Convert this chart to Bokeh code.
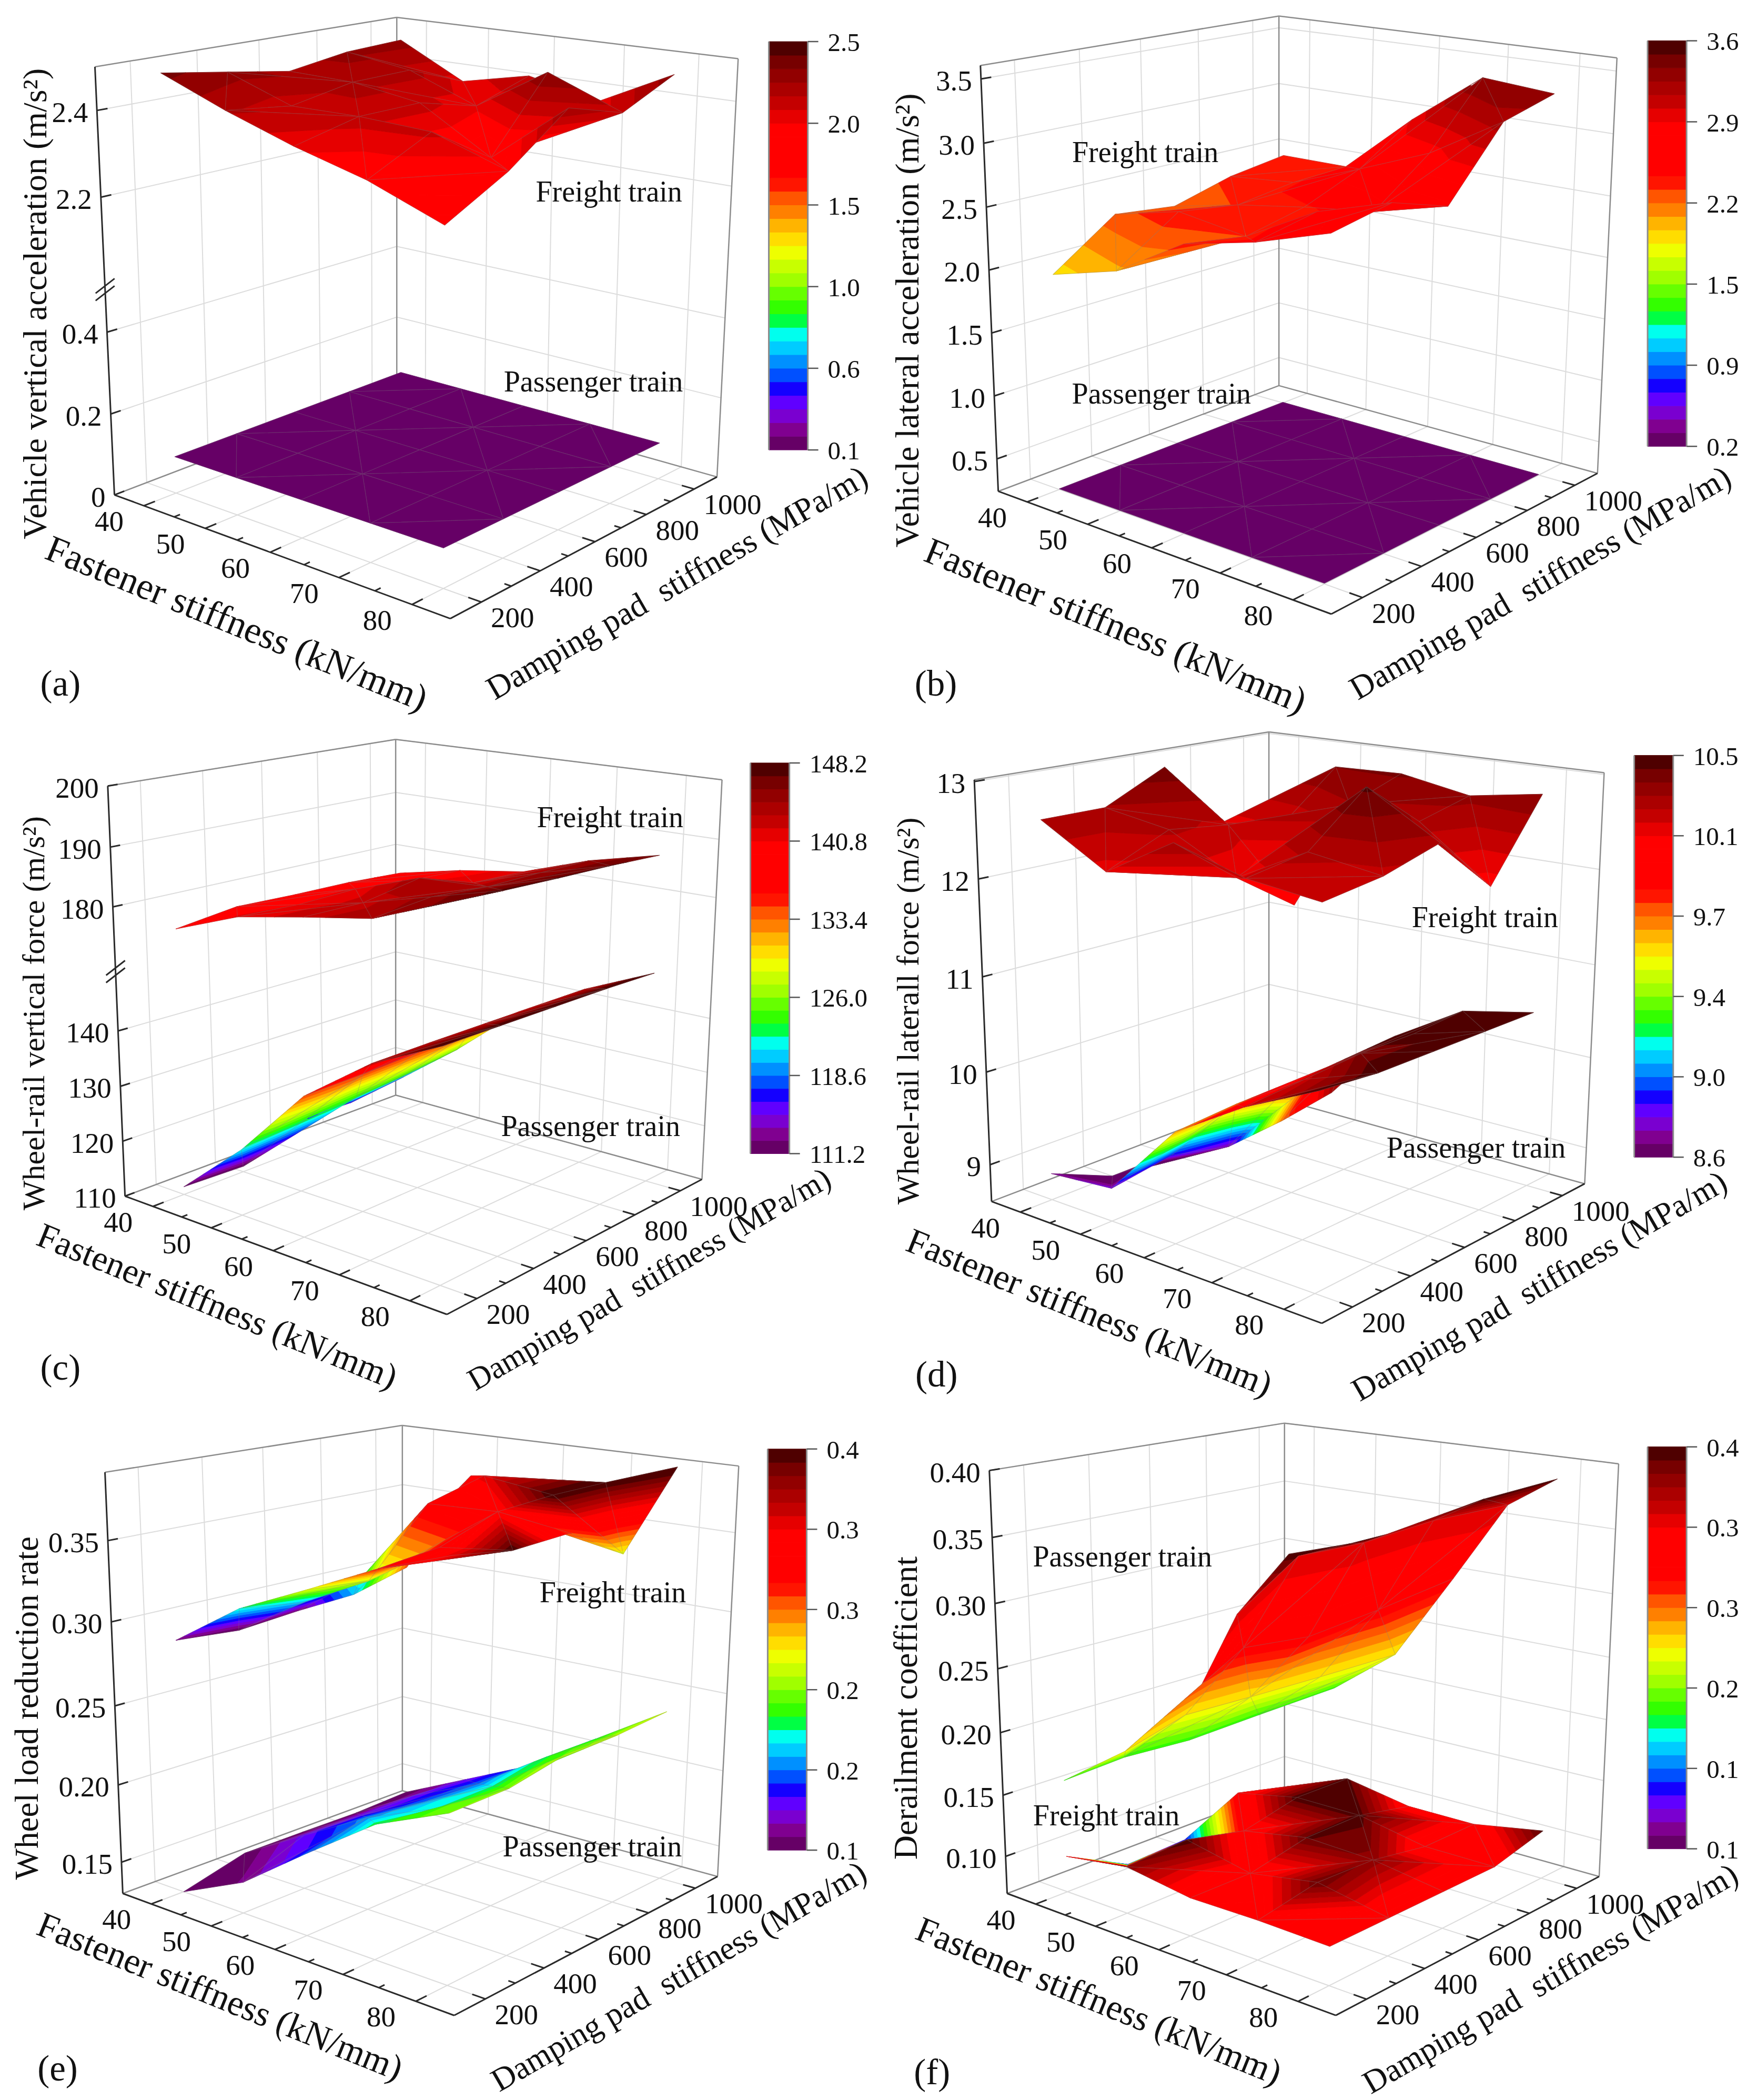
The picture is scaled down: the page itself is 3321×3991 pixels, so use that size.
import numpy as np
from bokeh.plotting import figure
from bokeh.layouts import column, row
from bokeh.embed import file_html
from bokeh.resources import INLINE
from bokeh.core.properties import value

# ---------------- axes ----------------
FASTENER_TICKS = [40, 50, 60, 70, 80]
PAD_TICKS = [200, 400, 600, 800, 1000]

# ---------------- values: rows are pad stiffness 200..1000, columns fastener 40..80 ----------------
A_FREIGHT = [[2.484,2.424,2.372,2.329,2.267],[2.459,2.404,2.406,2.399,2.343],[2.434,2.431,2.407,2.308,2.447],[2.456,2.433,2.37,2.474,2.406],[2.462,2.378,2.415,2.377,2.465]]
A_PASSENGER = [[0.09]*5 for _ in range(5)]
B_FREIGHT = [[1.954,2.103,2.427,2.554,2.729],[2.306,2.437,2.352,2.65,2.821],[2.248,2.366,2.455,2.526,2.673],[2.382,2.433,2.644,2.867,3.204],[2.453,2.452,2.947,3.375,3.325]]
B_PASSENGER = [[0.25]*5 for _ in range(5)]
C_FREIGHT = [[176.2,180.3,182.4,184.3,188.7],[177.5,179.9,182.3,185.3,188.3],[177.2,180.2,184.1,184.6,188],[177.1,179.4,181,184.7,187.8],[176.6,179,180.7,184.6,187.4]]
C_PASSENGER = [[111.4,121.6,134.3,142.9,148.8],[111,122.5,134.5,143,148.8],[115.7,123.5,135,143,148.8],[115.5,124.5,135.5,143,148.8],[116.7,125.7,136,143,148.6]]
D_FREIGHT = [[12.6,12.19,12.6,12.38,12.29],[12.6,12.48,12.11,12.49,12.38],[12.92,12.4,11.68,13.01,12.56],[12.18,12.29,12.6,12.53,11.98],[12.31,12.8,12.82,12.68,12.8]]
D_PASSENGER = [[8.89,8.95,9.75,10.2,10.55],[8.62,9.05,9.8,10.25,10.5],[8.62,8.9,9.8,10.3,10.5],[8.65,8.95,9.85,10.3,10.5],[8.7,9.05,9.9,10.35,10.5]]
D_PASSENGER_COLOUR = [[8.89,8.95,9.75,10.2,10.55],[8.62,9.05,9.8,10.25,10.5],[8.62,8.9,10.0,10.4,10.5],[8.65,9.8,10.4,10.5,10.5],[8.7,10.3,10.5,10.5,10.5]]
E_FREIGHT = [[.2884,.3155,.3344,.3537,.368],[.285,.31,.331,.358,.363],[.288,.3163,.3705,.3718,.3654],[.2897,.3371,.3812,.375,.3451],[.2993,.3686,.371,.3761,.3918]]
E_FREIGHT_COLOUR = [[.2884,.3155,.3344,.3537,.368],[.285,.31,.331,.358,.39],[.288,.3163,.36,.365,.352],[.31,.3371,.37,.39,.335],[.35,.36,.365,.39,.392]]
E_PASSENGER = [[.13,.1491,.1802,.21,.2282],[.1401,.1643,.188,.2055,.2289],[.1399,.1634,.1842,.2058,.236],[.1394,.1634,.1826,.2114,.236],[.141,.1612,.1818,.211,.2391]]
F_PASSENGER = [[.1606,.1931,.2196,.2513,.2823],[.1683,.2109,.2374,.2645,.2922],[.1776,.2507,.2704,.3015,.3344],[.2552,.313,.3326,.3584,.3782],[.2955,.3131,.3353,.3658,.3889]]
F_PASSENGER_COLOUR = [[.205]*5,[.25]*5,[.31]*5,[.35]*5,[.395]*5]
F_FREIGHT = [[.09867,.1068,.09919,.09972,.0985],[.07315,.1096,.09873,.1085,.0985],[.07537,.09861,.1088,.1068,.0985],[.09871,.1096,.1093,.09877,.0985],[.0796,.1091,.0993,.09916,.1092]]

COLOURBAR_COLOURS = ["#660066","#800090","#7a00d0","#6000ff","#1400ff","#0050ff","#0090ff","#00ccff","#00ffee","#00ff44",
                     "#33ff00","#66ff00","#a0ff00","#c8ff00","#eeff00","#ffdd00","#ffb400","#ff8000","#ff5500","#ff1500",
                     "#ff0000","#ff0000","#ff0000","#ff0000","#e60000","#c40000","#ab0000","#920000","#770000","#4f0000"]

FONT = value("Liberation Serif")
PANELS = [
 dict(tag="(a)", ox=0, oy=0, H=1340, L=(205,1100), F=(808,1375), R=(1287,1060), B=(712,860), TL=(170,148), TB=(712,38), TR=(1325,130),
      cal_z=[0,0.2,0.4,0.5,2.0,2.2,2.4,2.5], cal_y=[1100,920,738,647,640,438,245,148],
      ticks=[0,.2,.4,2.2,2.4], labels=["0","0.2","0.4","2.2","2.4"], brk=(0.5,2.0),
      ytitle="Vehicle vertical acceleration (m/s²)", yc=(62,675), ysize=64,
      ftc=(425,1385), fts=71, dtc=(1215,1295), dts=63,
      bar=(1380,1450,92,1000), barlab=["0.1","0.6","1.0","1.5","2.0","2.5"], letter=(108,1520),
      surfaces=[(A_PASSENGER,0.1,2.5,None),(A_FREIGHT,1.7,2.53,None)],
      notes=[("Freight train",1093,425),("Passenger train",1065,848)]),
 dict(tag="(b)", ox=1660, oy=0, H=1340, L=(224,1092), F=(822,1365), R=(1300,1052), B=(728,857), TL=(192,145), TB=(728,35), TR=(1335,128),
      cal_z=[.245,.5,1,1.5,2,2.5,3,3.5,3.606], cal_y=[1092,1020,880,740,600,460,318,175,145],
      ticks=[.5,1,1.5,2,2.5,3,3.5], labels=["0.5","1.0","1.5","2.0","2.5","3.0","3.5"], brk=None,
      ytitle="Vehicle lateral acceleration (m/s²)", yc=(60,712), ysize=64,
      ftc=(435,1390), fts=71, dtc=(1197,1295), dts=63,
      bar=(1390,1460,90,992), barlab=["0.2","0.9","1.5","2.2","2.9","3.6"], letter=(112,1520),
      surfaces=[(B_PASSENGER,0.2,3.6,None),(B_FREIGHT,0.2,3.6,None)],
      notes=[("Freight train",488,338),("Passenger train",517,875)]),
 dict(tag="(c)", ox=0, oy=1340, H=1320, L=(224,1108), F=(802,1375), R=(1260,1070), B=(710,880), TL=(193,182), TB=(710,77), TR=(1296,168),
      cal_z=[110,120,130,140,150,170,180,190,200], cal_y=[1108,984,860,735,610,592,455,320,182],
      ticks=[110,120,130,140,180,190,200], labels=["110","120","130","140","180","190","200"], brk=(150,170),
      ytitle="Wheel-rail vertical force (m/s²)", yc=(60,695), ysize=60,
      ftc=(390,1355), fts=67, dtc=(1165,1295), dts=60,
      bar=(1347,1417,130,1012), barlab=["111.2","118.6","126.0","133.4","140.8","148.2"], letter=(108,1495),
      surfaces=[(C_PASSENGER,111.2,148.2,None),(C_FREIGHT,142.9,189.2,None)],
      notes=[("Freight train",1095,252),("Passenger train",1060,950)]),
 dict(tag="(d)", ox=1660, oy=1340, H=1320, L=(212,1120), F=(805,1395), R=(1277,1080), B=(710,882), TL=(181,168), TB=(710,60), TR=(1312,152),
      cal_z=[8.62,9,10,11,12,13,13.02], cal_y=[1120,1037,828,613,392,172,168],
      ticks=[9,10,11,12,13], labels=["9","10","11","12","13"], brk=None,
      ytitle="Wheel-rail laterall force (m/s²)", yc=(62,690), ysize=60,
      ftc=(388,1370), fts=68, dtc=(1195,1310), dts=62,
      bar=(1366,1436,113,1020), barlab=["8.6","9.0","9.4","9.7","10.1","10.5"], letter=(113,1510),
      surfaces=[(D_PASSENGER,8.8,10.5,D_PASSENGER_COLOUR),(D_FREIGHT,7.85,13.15,None)],
      notes=[("Freight train",1098,478),("Passenger train",1082,998)]),
 dict(tag="(e)", ox=0, oy=2660, H=1331, L=(220,1105), F=(815,1378), R=(1288,1067), B=(722,875), TL=(188,162), TB=(722,57), TR=(1326,148),
      cal_z=[.13,.15,.2,.25,.3,.35,.392], cal_y=[1105,1035,862,685,497,315,162],
      ticks=[.15,.2,.25,.3,.35], labels=["0.15","0.20","0.25","0.30","0.35"], brk=None,
      ytitle="Wheel load reduction rate", yc=(48,690), ysize=63,
      ftc=(395,1335), fts=68, dtc=(1218,1290), dts=62,
      bar=(1378,1448,110,1008), barlab=["0.1","0.2","0.2","0.3","0.3","0.4"], letter=(103,1497),
      surfaces=[(E_PASSENGER,0.14,0.36,None),(E_FREIGHT,0.285,0.39,E_FREIGHT_COLOUR)],
      notes=[("Freight train",1100,430),("Passenger train",1063,1000)]),
 dict(tag="(f)", ox=1660, oy=2660, H=1331, L=(240,1105), F=(830,1378), R=(1303,1067), B=(738,870), TL=(208,158), TB=(738,52), TR=(1338,143),
      cal_z=[.07,.1,.15,.2,.25,.3,.35,.4], cal_y=[1105,1022,885,745,602,456,308,158],
      ticks=[.1,.15,.2,.25,.3,.35,.4], labels=["0.10","0.15","0.20","0.25","0.30","0.35","0.40"], brk=None,
      ytitle="Derailment coefficient", yc=(58,690), ysize=64,
      ftc=(405,1345), fts=68, dtc=(1215,1295), dts=62,
      bar=(1390,1460,105,1005), barlab=["0.1","0.1","0.2","0.3","0.3","0.4"], letter=(105,1505),
      surfaces=[(F_FREIGHT,0.07,0.11,None),(F_PASSENGER,0.1,0.4,F_PASSENGER_COLOUR)],
      notes=[("Passenger train",447,350),("Freight train",418,930)]),
]


def isect(a, b, c, d):
    a, b, c, d = [np.array(x, float) for x in (a, b, c, d)]
    t = np.linalg.solve(np.array([b - a, c - d]).T, c - a)
    return a + t[0] * (b - a)


def homography(pts):
    M, r = [], []
    for (u, v), (x, y) in zip([(0, 0), (1, 0), (1, 1), (0, 1)], pts):
        M.append([u, v, 1, 0, 0, 0, -u * x, -v * x]); r.append(x)
        M.append([0, 0, 0, u, v, 1, -u * y, -v * y]); r.append(y)
    return np.append(np.linalg.solve(np.array(M, float), np.array(r, float)), 1).reshape(3, 3)


def band_polys(tri, vmin, vmax):
    """tri: three (x, y, c). Split it into polygons of constant colour band."""
    n = len(COLOURBAR_COLOURS)
    step = (vmax - vmin) / n
    cs = [t[2] for t in tri]
    out = []
    for i in range(n):
        lo = -np.inf if i == 0 else vmin + i * step
        hi = np.inf if i == n - 1 else vmin + (i + 1) * step
        if max(cs) < lo or min(cs) > hi:
            continue
        poly = clip(clip(tri, lo, True), hi, False)
        if len(poly) >= 3:
            out.append((poly, COLOURBAR_COLOURS[i]))
    return out


def clip(poly, level, keep_above):
    if not np.isfinite(level) or not poly:
        return poly
    res = []
    for k in range(len(poly)):
        a, b = poly[k], poly[(k + 1) % len(poly)]
        ina = a[2] >= level if keep_above else a[2] <= level
        inb = b[2] >= level if keep_above else b[2] <= level
        if ina:
            res.append(a)
        if ina != inb:
            t = (level - a[2]) / (b[2] - a[2])
            res.append((a[0] + t * (b[0] - a[0]), a[1] + t * (b[1] - a[1]), level))
    return res


def panel(P, xlim, ylim):
    sx = 1660 / 1568
    sy = P["H"] / 1568
    def Z(pt):
        return (P["ox"] + pt[0] * sx, P["oy"] + pt[1] * sy)
    L, F, R, B, TL, TB, TR = [Z(P[k]) for k in ("L", "F", "R", "B", "TL", "TB", "TR")]
    vp1 = isect(L, F, B, R)
    vp2 = isect(L, B, F, R)
    TF = isect(TL, vp1, TR, vp2)
    Hf = homography([L, F, R, B])
    Ht = homography([TL, TF, TR, TB])
    Ly, Ty = P["L"][1], P["TL"][1]
    ws = [(Ly - y) / (Ly - Ty) for y in P["cal_y"]]

    def wz(z):
        return float(np.interp(z, P["cal_z"], ws))

    def pt3(f, pad, w):
        u, v = (f - 35) / 50, (pad - 100) / 1000
        a = Hf @ np.array([u, v, 1.0]); a = a[:2] / a[2]
        b = Ht @ np.array([u, v, 1.0]); b = b[:2] / b[2]
        return a * (1 - w) + b * w

    p = figure(width=xlim[1] - xlim[0], height=ylim[1] - ylim[0], x_range=xlim, y_range=(ylim[1], ylim[0]),
               output_backend="svg", toolbar_location=None, min_border=0)
    p.axis.visible = False
    p.grid.visible = False
    p.outline_line_color = None

    def seg(a, b):
        return [a[0], b[0]], [a[1], b[1]]

    grid, box, axes = [], [], []
    fa, fb, pa, pb = 35, 85, 100, 1100
    for f in FASTENER_TICKS:
        grid.append(seg(pt3(f, pa, 0), pt3(f, pb, 0)))
        grid.append(seg(pt3(f, pb, 0), pt3(f, pb, 1)))
    for d in PAD_TICKS:
        grid.append(seg(pt3(fa, d, 0), pt3(fb, d, 0)))
        grid.append(seg(pt3(fa, d, 0), pt3(fa, d, 1)))
    for z in P["ticks"]:
        w = wz(z)
        grid.append(seg(pt3(fa, pa, w), pt3(fa, pb, w)))
        grid.append(seg(pt3(fa, pb, w), pt3(fb, pb, w)))
    p.multi_line([g[0] for g in grid], [g[1] for g in grid], line_color="#dcdcdc", line_width=2)

    for a, b in [((fa, pa, 1), (fa, pb, 1)), ((fa, pb, 1), (fb, pb, 1)), ((fa, pb, 0), (fa, pb, 1)),
                 ((fb, pb, 0), (fb, pb, 1)), ((fa, pa, 0), (fa, pb, 0)), ((fa, pb, 0), (fb, pb, 0))]:
        box.append(seg(pt3(*a), pt3(*b)))
    p.multi_line([g[0] for g in box], [g[1] for g in box], line_color="#8c8c8c", line_width=2.5)

    for a, b in [((fa, pa, 0), (fa, pa, 1)), ((fa, pa, 0), (fb, pa, 0)), ((fb, pa, 0), (fb, pb, 0))]:
        axes.append(seg(pt3(*a), pt3(*b)))
    for f in range(40, 85, 5):
        ln = 34 if f % 10 == 0 else 18
        axes.append(seg(pt3(f, pa, 0), pt3(f, pa + ln, 0)))
    for d in range(200, 1100, 100):
        ln = 1.7 if d % 200 == 0 else 0.9
        axes.append(seg(pt3(fb, d, 0), pt3(fb - ln, d, 0)))
    for z in P["ticks"]:
        w = wz(z)
        axes.append(seg(pt3(fa, pa, w), pt3(fa, pa + 30, w)))
    if P["brk"]:
        q = pt3(fa, pa, 0.5 * (wz(P["brk"][0]) + wz(P["brk"][1])))
        for dy in (-7, 7):
            axes.append(([q[0] - 18, q[0] + 18], [q[1] + dy + 14, q[1] + dy - 14]))
    p.multi_line([g[0] for g in axes], [g[1] for g in axes], line_color="#2a2a2a", line_width=3)

    # surfaces: each triangle is split along the colour levels, painted from far to near
    for vals, vmin, vmax, colgrid in P["surfaces"]:
        vals = np.array(vals, float)
        cols = vals if colgrid is None else np.array(colgrid, float)
        xs, ys, fc, lc, fa_, la, lw = [], [], [], [], [], [], []
        def node(i, j):
            q = pt3(FASTENER_TICKS[j], PAD_TICKS[i], wz(vals[i, j]))
            return (q[0], q[1], cols[i, j])
        for i in range(3, -1, -1):
            for j in range(4):
                a, b, c, d = node(i, j), node(i, j + 1), node(i + 1, j + 1), node(i + 1, j)
                tris = [(d, c, a), (c, b, a)] if (i + j) % 2 == 1 else [(d, c, b), (d, b, a)]
                for tri in tris:
                    for poly, colr in band_polys(list(tri), vmin, vmax):
                        xs.append([q[0] for q in poly]); ys.append([q[1] for q in poly])
                        fc.append(colr); lc.append(colr); fa_.append(1.0); la.append(1.0); lw.append(1.0)
                    xs.append([q[0] for q in tri]); ys.append([q[1] for q in tri])
                    fc.append("#888888"); lc.append("#808080"); fa_.append(0.0); la.append(0.32); lw.append(1.2)
        p.patches(xs, ys, fill_color=fc, line_color=lc, fill_alpha=fa_, line_alpha=la, line_width=lw)

    def txt(x, y, s, size, align="center", angle=0.0):
        p.text([x], [y], text=[s], text_font=FONT, text_font_size=f"{size}px", text_align=align,
               text_baseline="middle", angle=angle, text_color="#111111")

    for f in FASTENER_TICKS:
        q = pt3(f, pa, 0)
        txt(q[0] - 66, q[1] + 30, str(f), 55)
    for d in PAD_TICKS:
        q = pt3(fb, d, 0)
        txt(q[0] + 18, q[1] + 30, str(d), 55, "left")
    for z, s in zip(P["ticks"], P["labels"]):
        q = pt3(fa, pa, wz(z))
        txt(q[0] - 17, q[1] + 4, s, 55, "right")

    c = Z(P["yc"]); txt(c[0], c[1], P["ytitle"], P["ysize"], angle=np.pi / 2)
    c = Z(P["ftc"]); txt(c[0], c[1], "Fastener stiffness (kN/mm)", P["fts"], angle=-np.radians(22.1))
    c = Z(P["dtc"]); txt(c[0], c[1], "Damping pad\u00a0\u00a0stiffness (MPa/m)", P["dts"], angle=np.radians(30))
    c = Z(P["letter"]); txt(c[0], c[1], P["tag"], 69)
    for s, x, y in P["notes"]:
        c = Z((x, y)); txt(c[0], c[1], s, 56)

    # colour bar
    x0, x1, y0, y1 = P["bar"]
    (X0, Y0), (X1, Y1) = Z((x0, y0)), Z((x1, y1))
    n = len(COLOURBAR_COLOURS)
    edges = np.linspace(Y1, Y0, n + 1)
    p.quad(left=X0, right=X1, bottom=edges[:-1], top=edges[1:], fill_color=COLOURBAR_COLOURS,
           line_color=COLOURBAR_COLOURS, line_width=1)
    p.multi_line([[X0, X0], [X1, X1]], [[Y0, Y1], [Y0, Y1]], line_color="#8c8c8c", line_width=3)
    tys = np.linspace(Y1, Y0, len(P["barlab"]))
    p.multi_line([[X1, X1 + 20] for _ in tys], [[t, t] for t in tys], line_color="#555555", line_width=2.5)
    for t, s in zip(tys, P["barlab"]):
        txt(X1 + 38, t + 2, s, 49, "left")
    return p


XS = [(0, 1660), (1660, 3321)]
YS = [(0, 1375), (1375, 2680), (2680, 3991)]
figs = [panel(PANELS[i * 2 + j], XS[j], YS[i]) for i in range(3) for j in range(2)]
layout = column(row(figs[0], figs[1]), row(figs[2], figs[3]), row(figs[4], figs[5]))
open("out.html", "w").write(file_html(layout, INLINE))
